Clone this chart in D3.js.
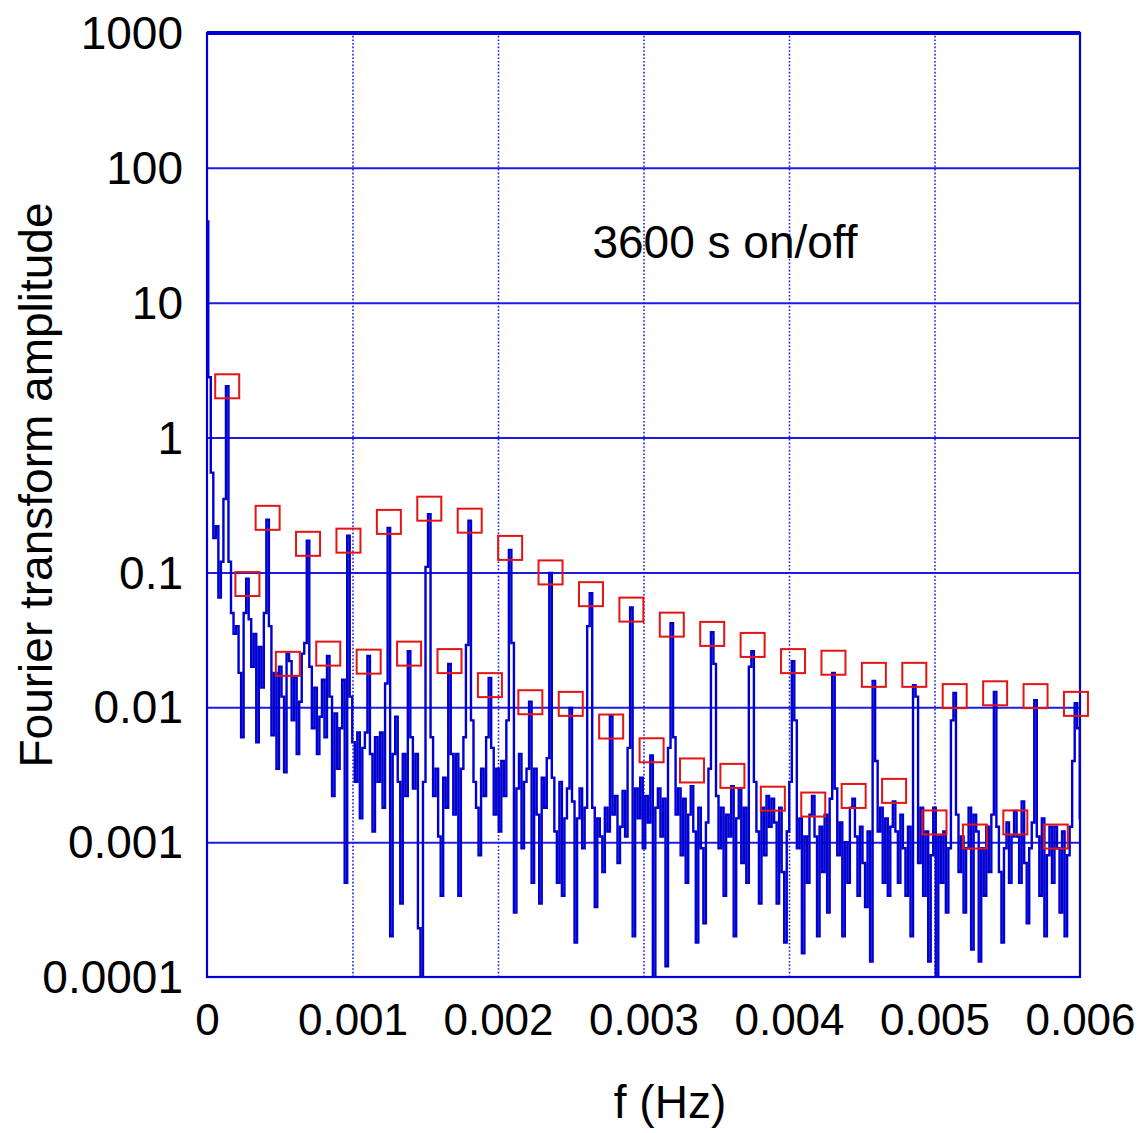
<!DOCTYPE html>
<html>
<head>
<meta charset="utf-8">
<script src="https://cdn.jsdelivr.net/npm/d3@7"></script>
<style>
  html, body { margin: 0; padding: 0; background: #ffffff; }
  svg { display: block; }
  text { font-family: "Liberation Sans", Arial, sans-serif; fill: #000; }
</style>
</head>
<body>
<svg id="chart" width="1148" height="1133"></svg>
<script>
// ---------------- DATA ----------------
// x-axis ticks (Hz) and their labels
const xTickValues = [0, 0.001, 0.002, 0.003, 0.004, 0.005, 0.006];
const xTickLabels = ["0", "0.001", "0.002", "0.003", "0.004", "0.005", "0.006"];
// y-axis decade ticks and labels
const yTickValues = [1000, 100, 10, 1, 0.1, 0.01, 0.001, 0.0001];
const yTickLabels = ["1000", "100", "10", "1", "0.1", "0.01", "0.001", "0.0001"];

// Spectrum sampling: one sample every 1/57600 Hz (8 samples per 1/7200 Hz harmonic)
const spectrumStepHz = 1 / 57600;
// Fourier transform amplitude, sample by sample
const spectrumAmp = [
  40, 2.8, 0.55, 0.18, 0.22, 0.065, 0.12, 0.35,
  2.4, 0.12, 0.05, 0.035, 0.04, 0.018, 0.006, 0.05,
  0.09, 0.045, 0.02, 0.035, 0.0055, 0.028, 0.014, 0.05,
  0.246, 0.04, 0.0062, 0.018, 0.0035, 0.02, 0.012, 0.0033,
  0.025, 0.022, 0.008, 0.017, 0.0045, 0.011, 0.025, 0.03,
  0.172, 0.02, 0.007, 0.014, 0.0045, 0.0085, 0.016, 0.006,
  0.024, 0.012, 0.0022, 0.009, 0.0035, 0.007, 0.016, 0.0005,
  0.187, 0.012, 0.0055, 0.0028, 0.0065, 0.0015, 0.005, 0.0065,
  0.024, 0.0045, 0.0012, 0.006, 0.0028, 0.0065, 0.0018, 0.015,
  0.214, 0.0002, 0.0045, 0.0085, 0.0028, 0.00035, 0.0045, 0.0022,
  0.026, 0.006, 0.0025, 0.0045, 0.00023, 0.0001, 0.0028, 0.11,
  0.27, 0.006, 0.0022, 0.0035, 0.0011, 0.0004, 0.003, 0.0018,
  0.021, 0.0045, 0.0016, 0.0045, 0.0004, 0.0035, 0.006, 0.029,
  0.242, 0.008, 0.0028, 0.0018, 0.0008, 0.0035, 0.0022, 0.006,
  0.0165, 0.005, 0.0016, 0.0035, 0.0012, 0.004, 0.0022, 0.008,
  0.147, 0.03, 0.0003, 0.0025, 0.0045, 0.0009, 0.0028, 0.0035,
  0.011, 0.0005, 0.0035, 0.0016, 0.00035, 0.003, 0.0018, 0.0042,
  0.099, 0.003, 0.0012, 0.0005, 0.0028, 0.0004, 0.0015, 0.0025,
  0.0099, 0.002, 0.00018, 0.0015, 0.0025, 0.0009, 0.0018, 0.04,
  0.07, 0.0018, 0.00033, 0.0015, 0.0011, 0.0006, 0.0018, 0.0012,
  0.0086, 0.0016, 0.0022, 0.0007, 0.0013, 0.0024, 0.0011, 0.005,
  0.055, 0.0002, 0.0025, 0.0015, 0.003, 0.0009, 0.0022, 0.0014,
  0.0044, 0.0001, 0.0018, 0.0025, 0.0011, 0.0021, 0.00012, 0.005,
  0.042, 0.006, 0.0016, 0.0025, 0.0008, 0.0021, 0.0005, 0.0016,
  0.0026, 0.0012, 0.00018, 0.0018, 0.0009, 0.00025, 0.0014, 0.0035,
  0.036, 0.021, 0.0022, 0.0009, 0.0018, 0.0004, 0.0016, 0.0011,
  0.0026, 0.0002, 0.0015, 0.0025, 0.0007, 0.0018, 0.0005, 0.02,
  0.026, 0.0028, 0.0012, 0.00035, 0.0018, 0.0008, 0.0022, 0.0013,
  0.0021, 0.0014, 0.00035, 0.0018, 0.0006, 0.00018, 0.0012, 0.0028,
  0.022, 0.008, 0.0009, 0.0015, 0.00015, 0.0011, 0.0005, 0.0016,
  0.0022, 0.0011, 0.0002, 0.0013, 0.0006, 0.0016, 0.0003, 0.0021,
  0.018, 0.0025, 0.0008, 0.0014, 0.0002, 0.001, 0.0005, 0.0018,
  0.0021, 0.0011, 0.0004, 0.0013, 0.0007, 0.00033, 0.0012, 0.00013,
  0.0157, 0.004, 0.0012, 0.0018, 0.0005, 0.0015, 0.0004, 0.0013,
  0.002, 0.0012, 0.0005, 0.0016, 0.0009, 0.0004, 0.0013, 0.0002,
  0.0146, 0.012, 0.0007, 0.0018, 0.0004, 0.0012, 0.00013, 0.0008,
  0.0018, 0.0001, 0.0011, 0.0005, 0.0012, 0.0003, 0.0009, 0.008,
  0.0128, 0.0016, 0.0006, 0.0011, 0.0003, 0.0009, 0.0018, 0.00016,
  0.0016, 0.0012, 0.00013, 0.0009, 0.0004, 0.0013, 0.0006, 0.0016,
  0.013, 0.0013, 0.0006, 0.00018, 0.0009, 0.0014, 0.0005, 0.0011,
  0.0017, 0.0011, 0.0005, 0.002, 0.0007, 0.00025, 0.0009, 0.0014,
  0.0113, 0.0011, 0.0004, 0.0015, 0.0002, 0.0008, 0.0013, 0.0005,
  0.0013, 0.0009, 0.0003, 0.0012, 0.0002, 0.0008, 0.0013, 0.004,
  0.0107, 0.007, 0.0015
];

// Red square markers at harmonics of 1/7200 Hz
const markerPeriodS = 7200;
const oddHarmonics = [1,3,5,7,9,11,13,15,17,19,21,23,25,27,29,31,33,35,37,39,41,43];
const oddMarkerAmp = [2.4, 0.254, 0.163, 0.172, 0.237, 0.297, 0.242, 0.152, 0.100, 0.069, 0.053,
                      0.041, 0.035, 0.029, 0.022, 0.0214, 0.0174, 0.0174, 0.0121, 0.0127, 0.0121, 0.0106];
const evenHarmonics = [2,4,6,8,10,12,14,16,18,20,22,24,26,28,30,32,34,36,38,40,42];
const evenMarkerAmp = [0.082, 0.021, 0.025, 0.0218, 0.025, 0.022, 0.0146, 0.0109, 0.0106, 0.0072, 0.0048,
                       0.0034, 0.0031, 0.0021, 0.0019, 0.0022, 0.0024, 0.0014, 0.0011, 0.0014, 0.0011];

const annotation = "3600 s on/off";
const xTitle = "f (Hz)";
const yTitle = "Fourier transform amplitude";

// ---------------- CHART ----------------
(function () {
const svg = d3.select("#chart");
const pL = 207, pR = 1080, pT = 33, pB = 977;
const blue = "#0000d0";
const gridBlue = "#1c1ce0";

const x = d3.scaleLinear().domain([0, 0.006]).range([pL, pR]);
const y = d3.scaleLog().domain([0.0001, 1000]).range([pB, pT]);

svg.append("defs").append("clipPath").attr("id", "plotclip")
  .append("rect").attr("x", pL).attr("y", pT)
  .attr("width", pR - pL).attr("height", pB - pT);

// vertical dotted grid
const xGrid = d3.axisBottom(x).tickValues(xTickValues.slice(1, -1))
  .tickSize(-(pB - pT)).tickFormat("");
svg.append("g").attr("transform", `translate(0,${pB})`).call(xGrid)
  .call(g => g.select(".domain").remove())
  .call(g => g.selectAll("line").attr("stroke", gridBlue).attr("stroke-width", 1.6)
    .attr("stroke-dasharray", "1.6,2"));

// horizontal solid grid at decades
const yGrid = d3.axisLeft(y).tickValues(yTickValues.slice(1, -1))
  .tickSize(-(pR - pL)).tickFormat("");
svg.append("g").attr("transform", `translate(${pL},0)`).call(yGrid)
  .call(g => g.select(".domain").remove())
  .call(g => g.selectAll("line").attr("stroke", gridBlue).attr("stroke-width", 2));

// spectrum line
const line = d3.line()
  .x((d, i) => x(i * spectrumStepHz))
  .y(d => y(d))
  .curve(d3.curveStep);
svg.append("path")
  .datum(spectrumAmp)
  .attr("clip-path", "url(#plotclip)")
  .attr("d", line)
  .attr("fill", "none")
  .attr("stroke", blue)
  .attr("stroke-width", 2.4)
  .attr("stroke-linejoin", "miter");

// frame
svg.append("rect").attr("x", pL).attr("y", pT)
  .attr("width", pR - pL).attr("height", pB - pT)
  .attr("fill", "none").attr("stroke", blue).attr("stroke-width", 2.2);
svg.append("line").attr("x1", pL).attr("x2", pR).attr("y1", pT).attr("y2", pT)
  .attr("stroke", blue).attr("stroke-width", 4);

// red square markers
const sq = 24;
const markers = oddHarmonics.map((n, i) => ({ f: n / markerPeriodS, a: oddMarkerAmp[i] }))
  .concat(evenHarmonics.map((n, i) => ({ f: n / markerPeriodS, a: evenMarkerAmp[i] })));
svg.append("g").selectAll("rect").data(markers).join("rect")
  .attr("x", d => x(d.f) - sq / 2)
  .attr("y", d => y(d.a) - sq / 2)
  .attr("width", sq).attr("height", sq)
  .attr("fill", "none").attr("stroke", "#e41414").attr("stroke-width", 2);

// y tick labels
const yAxis = d3.axisLeft(y).tickValues(yTickValues).tickSize(0).tickPadding(0)
  .tickFormat((d, i) => yTickLabels[i]);
svg.append("g").attr("transform", `translate(183,0)`).call(yAxis)
  .call(g => g.select(".domain").remove())
  .call(g => g.selectAll("text").attr("font-size", 46).attr("font-family", "'Liberation Sans', Arial, sans-serif")
    .attr("fill", "#000").attr("x", 0).attr("dy", "0.34em").attr("text-anchor", "end"));

// x tick labels
const xAxis = d3.axisBottom(x).tickValues(xTickValues).tickSize(0).tickPadding(0)
  .tickFormat((d, i) => xTickLabels[i]);
svg.append("g").attr("transform", `translate(0,1035)`).call(xAxis)
  .call(g => g.select(".domain").remove())
  .call(g => g.selectAll("text").attr("font-size", 44).attr("font-family", "'Liberation Sans', Arial, sans-serif")
    .attr("fill", "#000").attr("y", 0).attr("dy", 0));

// annotation
svg.append("text").attr("x", 725).attr("y", 258).attr("text-anchor", "middle")
  .attr("font-size", 46).text(annotation);

// axis titles
svg.append("text").attr("x", 670).attr("y", 1118).attr("text-anchor", "middle")
  .attr("font-size", 46).text(xTitle);
svg.append("text").attr("transform", "translate(52,485) rotate(-90)")
  .attr("text-anchor", "middle").attr("font-size", 46).text(yTitle);
})();
</script>
</body>
</html>
